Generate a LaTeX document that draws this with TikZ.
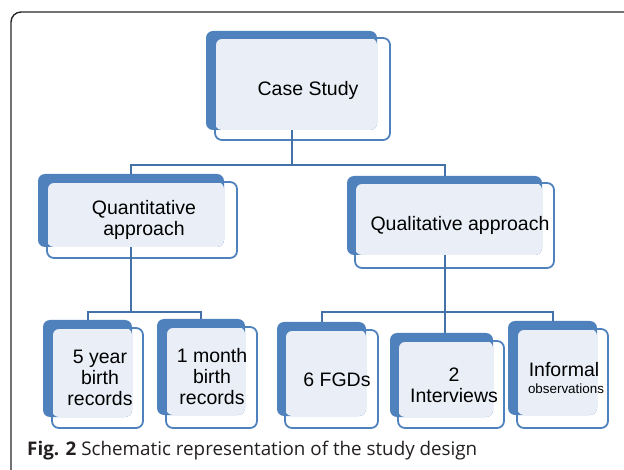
\documentclass[tikz,border=0pt]{standalone}
\usepackage{fontspec}
\setmainfont{Liberation Sans}
\newfontfamily\capfont{Open Sans}
\definecolor{darkb}{HTML}{4F81BD}
\definecolor{lightb}{HTML}{EAEFF7}
\definecolor{connc}{HTML}{4472A8}
\definecolor{capc}{HTML}{231F20}
\tikzset{
  backbox/.style={rectangle, fill=darkb, rounded corners=7pt, inner sep=0pt, outer sep=0pt},
  lightfill/.style={fill=lightb, rounded corners=7pt},
  outl/.style={draw=darkb, line width=1.8pt, rounded corners=7pt},
  conn/.style={draw=connc, line width=2pt},
  lbl/.style={font=\fontsize{19.5}{21}\selectfont, align=center, inner sep=0pt, text=black},
  smalllbl/.style={font=\fontsize{13.4}{15}\selectfont, align=center, inner sep=0pt, text=black}
}
\newcommand\smbox[9]{%
  \node[backbox, minimum width={#4-#2}, minimum height={#5-#3}] (#1) at ({(#2+#4)/2},{(#3+#5)/2}) {};
  \fill[lightfill] (#6,#7) rectangle (#4,#5);
  \draw[outl] (#6,#7) rectangle (#8,#9);
}
\begin{document}
\begin{tikzpicture}[x=1pt,y=-1pt]
\useasboundingbox (0,0) rectangle (624,470);
\draw[line width=1.4pt, color=black!85, rounded corners=10pt] (11,480) -- (11,12) -- (640,12);

\smbox{cs}{206}{31}{377}{130}{215}{38}{390}{140}
\smbox{qn}{38}{174}{224}{247}{47}{182}{237}{258}
\smbox{ql}{347}{176}{542}{255}{355}{183}{554}{268}
\smbox{fy}{43}{320}{132}{417}{52}{328}{143}{428}
\smbox{om}{157}{319}{245}{415}{166}{327}{257}{428}
\smbox{fg}{277}{322}{366}{416}{285}{330}{378}{428}
\smbox{iv}{390}{333}{493}{417}{398}{341}{504}{428}
\smbox{inf}{508}{321}{597}{415}{517}{329}{608}{428}

\node[lbl] (tcs) at (308,90) {Case Study};
\node[lbl] (tqn) at (144,220) {Quantitative\\approach};
\node[lbl] (tql) at (460,225) {Qualitative approach};
\node[lbl] (tfy) at (100,378) {5 year\\birth\\records};
\node[lbl] (tom) at (212,377) {1 month\\birth\\records};
\node[lbl] (tfg) at (337,380) {6 FGDs};
\node[lbl] (tiv) at (454,385) {2\\Interviews};
\node[lbl] (tin) at (564,370) {Informal};
\node[smalllbl] (tob) at (566,389) {observations};

\coordinate (bus1) at (0,165);
\coordinate (bus2) at (0,312);
\draw[conn] (cs.south) -- (cs.south |- bus1) -| (qn.north);
\draw[conn] (cs.south |- bus1) -| (ql.north);
\draw[conn] (qn.south) -- (qn.south |- bus2) -| (fy.north);
\draw[conn] (qn.south |- bus2) -| (om.north);
\draw[conn] (ql.south) -- (ql.south |- bus2) -| (fg.north);
\draw[conn] (ql.south |- bus2) -| (inf.north);
\draw[conn] (ql.south |- bus2) -- (iv.north -| ql.south);

\node[anchor=west, inner sep=0pt, text=capc, font=\capfont\fontsize{18.8}{21}\selectfont] (cap) at (27,451) {\textbf{Fig. 2} Schematic representation of the study design};
\end{tikzpicture}
\end{document}
